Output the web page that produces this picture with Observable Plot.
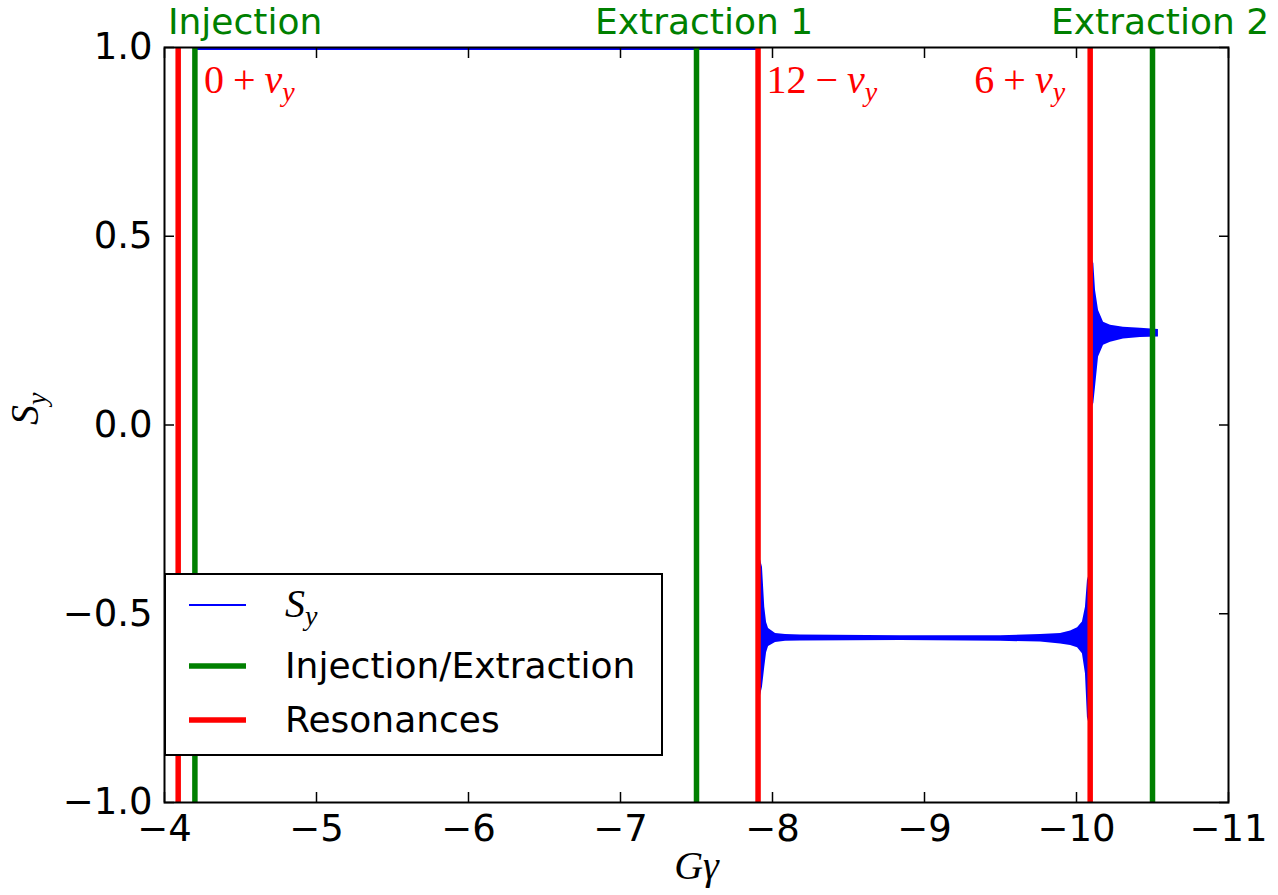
<!DOCTYPE html>
<html><head><meta charset="utf-8">
<script src="https://cdn.jsdelivr.net/npm/d3@7"></script>
<script src="https://cdn.jsdelivr.net/npm/@observablehq/plot@0.6"></script>
<style>body{margin:0;background:#fff}</style>
</head><body><div id="chart"></div>
<script>
// ---- data ----
const xTicks = [-4, -5, -6, -7, -8, -9, -10, -11];
const yTicks = [-1, -0.5, 0, 0.5, 1];

const injExtX = [-4.2, -7.5, -10.5];
const injExtLabels = ["Injection", "Extraction 1", "Extraction 2"];
const injExtLabelX = [-4.53, -7.55, -10.55];

const resonanceX = [-4.09, -7.905, -10.09];
const resonanceLabels = ["0+ν_y", "12−ν_y", "6+ν_y"];
const resonanceLabelX = [-4.26, -7.96, -9.925];
const resonanceLabelAnchor = ["start", "start", "end"];

// S_y before the 12-ν_y crossing
const sy1X = [-4.21, -7.905];
const sy1 = [0.996, 0.996];

// S_y envelope between 12-ν_y and 6+ν_y
const sy2X  = [-7.905, -7.914, -7.934, -7.949, -7.961, -7.974, -8.02, -8.086, -8.184, -8.842, -9.5, -9.763, -9.895, -9.961, -10.007, -10.039, -10.059, -10.072, -10.088];
const sy2Hi = [-0.33, -0.346, -0.377, -0.483, -0.523, -0.539, -0.552, -0.555, -0.556, -0.558, -0.558, -0.555, -0.552, -0.546, -0.537, -0.522, -0.483, -0.412, -0.39];
const sy2Lo = [-0.75, -0.73, -0.695, -0.642, -0.603, -0.587, -0.576, -0.573, -0.572, -0.571, -0.573, -0.575, -0.58, -0.584, -0.59, -0.606, -0.659, -0.775, -0.80];

// S_y envelope after 6+ν_y
const sy3X  = [-10.092, -10.114, -10.125, -10.145, -10.178, -10.224, -10.309, -10.421, -10.539];
const sy3Hi = [0.449, 0.428, 0.357, 0.303, 0.272, 0.264, 0.259, 0.256, 0.253];
const sy3Lo = [0.038, 0.057, 0.100, 0.180, 0.211, 0.219, 0.228, 0.232, 0.233];

// ---- tables ----
const line1 = sy1X.map((x, i) => ({x, y: sy1[i]}));
const band2 = sy2X.map((x, i) => ({x, hi: sy2Hi[i], lo: sy2Lo[i]}));
const band3 = sy3X.map((x, i) => ({x, hi: sy3Hi[i], lo: sy3Lo[i]}));
const topLabels = injExtLabels.map((t, i) => ({x: injExtLabelX[i], t}));
const resLabels = resonanceLabels.map((t, i) => ({x: resonanceLabelX[i], t, a: resonanceLabelAnchor[i]}));

const BLUE = "#0000ff", GREEN = "#008000", RED = "#ff0000";
const minus = s => String(s).replace("-", "\u2212");
const MATH = "Liberation Serif";

const resText = anchor => Plot.text(resLabels.filter(d => d.a === anchor), {
  x: "x", y: () => 1, text: "t", fill: RED, fontSize: 40, fontFamily: MATH, dy: 33, textAnchor: anchor
});

const plot = Plot.plot({
  width: 1278, height: 895,
  marginLeft: 164, marginRight: 50, marginTop: 47, marginBottom: 93,
  style: {fontFamily: "DejaVu Sans", fontSize: "36px", background: "white", overflow: "visible"},
  x: {domain: [-4, -11], label: null},
  y: {domain: [-1, 1], label: null},
  marks: [
    Plot.line(line1, {x: "x", y: "y", stroke: BLUE, strokeWidth: 2}),
    Plot.areaY(band2, {x: "x", y1: "lo", y2: "hi", fill: BLUE}),
    Plot.areaY(band3, {x: "x", y1: "lo", y2: "hi", fill: BLUE}),
    Plot.ruleX(injExtX, {stroke: GREEN, strokeWidth: 5.5}),
    Plot.ruleX(resonanceX, {stroke: RED, strokeWidth: 5.5}),
    Plot.frame({stroke: "black", strokeWidth: 2}),
    Plot.axisX({anchor: "bottom", ticks: xTicks, tickFormat: minus, tickSize: -10, tickPadding: 22, fontSize: 37, strokeWidth: 1.5, label: null}),
    Plot.axisX({anchor: "top", ticks: xTicks, tickFormat: () => "", tickSize: -10, strokeWidth: 1.5, label: null}),
    Plot.axisY({anchor: "left", ticks: yTicks, tickFormat: d => minus(d.toFixed(1)), tickSize: -10, tickPadding: 22, fontSize: 37, strokeWidth: 1.5, label: null}),
    Plot.axisY({anchor: "right", ticks: yTicks, tickFormat: () => "", tickSize: -10, strokeWidth: 1.5, label: null}),
    Plot.text(topLabels, {x: "x", y: () => 1, text: "t", fill: GREEN, fontSize: 36, dy: -25.5, textAnchor: "middle"}),
    resText("start"),
    resText("end"),
    Plot.text([0], {frameAnchor: "bottom", text: () => "Gγ", fontFamily: MATH, fontStyle: "italic", fontSize: 40, dy: 76}),
    Plot.text([0], {frameAnchor: "left", text: () => "S_y", fontFamily: MATH, fontSize: 40, rotate: -90, dx: -139})
  ]
});
document.getElementById("chart").appendChild(plot);

// ---- math-style rich text (subscripts / italics) ----
function mathHTML(s) {
  if (s === "S_y") return '<tspan font-style="italic">S</tspan><tspan font-style="italic" font-size="0.7em" dy="0.28em">y</tspan>';
  const m = s.match(/^(\d+)([+−])ν_y$/);
  if (m) return `<tspan>${m[1]}</tspan><tspan dx="9">${m[2]}</tspan><tspan dx="9" font-style="italic">ν</tspan><tspan font-style="italic" font-size="0.7em" dy="0.28em">y</tspan>`;
  return null;
}
d3.select(plot).selectAll("text").each(function () {
  const h = mathHTML(this.textContent);
  if (h) this.innerHTML = h;
});

// ---- legend (inside the frame) ----
const svg = d3.select(plot);
const L = 165, T = 574, W = 497, H = 181;
const lg = svg.append("g").attr("text-anchor", "start");
lg.append("rect").attr("x", L).attr("y", T).attr("width", W).attr("height", H)
  .attr("fill", "white").attr("stroke", "black").attr("stroke-width", 2);
const rows = [
  {label: "S_y", color: BLUE, w: 2, cy: T + 31},
  {label: "Injection/Extraction", color: GREEN, w: 5.5, cy: T + 92},
  {label: "Resonances", color: RED, w: 5.5, cy: T + 146}
];
rows.forEach(r => {
  lg.append("line").attr("x1", L + 24).attr("x2", L + 81).attr("y1", r.cy).attr("y2", r.cy)
    .attr("stroke", r.color).attr("stroke-width", r.w);
  const isMath = r.label === "S_y";
  const t = lg.append("text").attr("x", L + 120).attr("y", r.cy).attr("dy", isMath ? "0.3em" : "0.34em")
    .attr("text-anchor", "start")
    .attr("font-size", isMath ? 40 : 36)
    .attr("font-family", isMath ? MATH : "DejaVu Sans").text(r.label);
  const h = mathHTML(r.label);
  if (h) t.node().innerHTML = h;
});
</script>
</body></html>
